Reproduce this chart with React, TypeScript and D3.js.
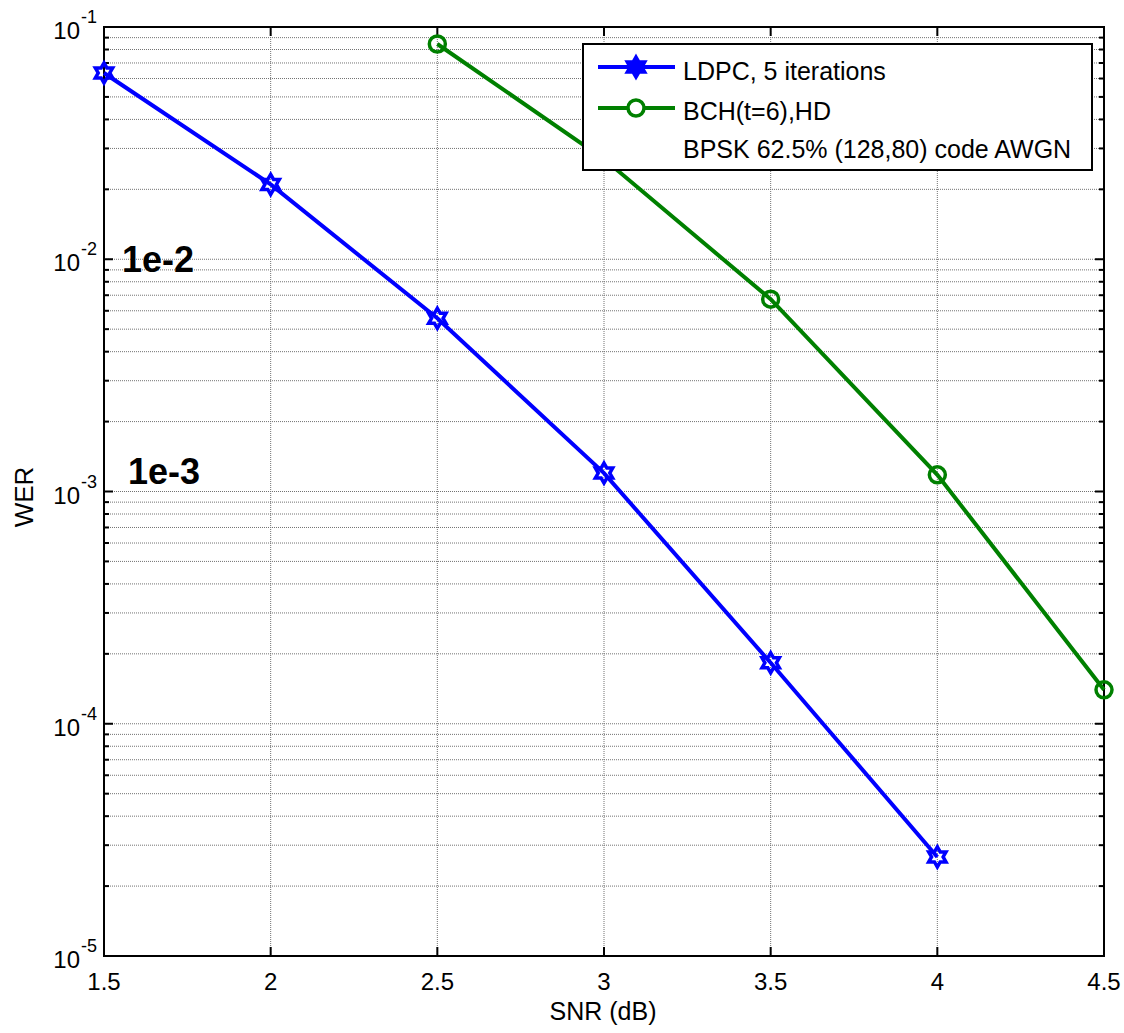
import React, { useRef, useEffect } from "react";
import * as d3 from "d3";

const snrLdpc = [1.5, 2, 2.5, 3, 3.5, 4];
const werLdpc = [0.0634, 0.021, 0.00557, 0.0012, 1.83e-4, 2.67e-5];

const snrBch = [2.5, 3, 3.5, 4, 4.5];
const werBch = [0.0845, 0.027, 0.00673, 0.00118, 1.4e-4];

const xTicks = [1.5, 2, 2.5, 3, 3.5, 4, 4.5];
const yExponents = [-5, -4, -3, -2, -1];

const legendLabels = ["LDPC, 5 iterations", "BCH(t=6),HD", "BPSK 62.5% (128,80) code AWGN"];

const font = "'Liberation Sans', Arial, sans-serif";

function hexagram(R: number) {
  const r = R / Math.sqrt(3);
  const pts: [number, number][] = [];
  for (let i = 0; i < 12; i++) {
    const a = -Math.PI / 2 + (i * Math.PI) / 6;
    const rad = i % 2 === 0 ? R : r;
    pts.push([rad * Math.cos(a), rad * Math.sin(a)]);
  }
  return "M" + pts.map((p) => p.join(",")).join("L") + "Z";
}

const App = () => {
  const svgRef = useRef<SVGSVGElement>(null);

  useEffect(() => {
    const width = 1124;
    const height = 1033;
    const left = 104, right = 1104, top = 27, bottom = 956;

    const svg = d3.select(svgRef.current);
    svg.selectAll("*").remove();
    svg.attr("width", width).attr("height", height).style("display", "block")
      .style("position", "absolute").style("left", 0).style("top", 0);

    svg.append("rect").attr("width", width).attr("height", height).attr("fill", "white");

    const x = d3.scaleLinear().domain([1.5, 4.5]).range([left, right]);
    const y = d3.scaleLog().domain([1e-5, 1e-1]).range([bottom, top]);

    // minor values of each decade
    const minor: number[] = [];
    for (let e = -5; e < -1; e++) for (let k = 2; k <= 9; k++) minor.push(k * Math.pow(10, e));
    const major = yExponents.map((e) => Math.pow(10, e));

    const grid = svg.append("g").attr("stroke", "#444").attr("stroke-width", 1)
      .attr("stroke-dasharray", "1,1").attr("opacity", 0.75);
    [...major, ...minor].forEach((v) => {
      grid.append("line").attr("x1", left).attr("x2", right).attr("y1", y(v)).attr("y2", y(v));
    });
    xTicks.forEach((v) => {
      grid.append("line").attr("x1", x(v)).attr("x2", x(v)).attr("y1", top).attr("y2", bottom);
    });

    // ticks inward on all four sides
    const ticks = svg.append("g").attr("stroke", "black").attr("stroke-width", 2);
    xTicks.forEach((v) => {
      ticks.append("line").attr("x1", x(v)).attr("x2", x(v)).attr("y1", bottom).attr("y2", bottom - 9);
      ticks.append("line").attr("x1", x(v)).attr("x2", x(v)).attr("y1", top).attr("y2", top + 9);
    });
    major.forEach((v) => {
      ticks.append("line").attr("x1", left).attr("x2", left + 9).attr("y1", y(v)).attr("y2", y(v));
      ticks.append("line").attr("x1", right).attr("x2", right - 9).attr("y1", y(v)).attr("y2", y(v));
    });
    minor.forEach((v) => {
      ticks.append("line").attr("x1", left).attr("x2", left + 5).attr("y1", y(v)).attr("y2", y(v));
      ticks.append("line").attr("x1", right).attr("x2", right - 5).attr("y1", y(v)).attr("y2", y(v));
    });

    svg.append("rect").attr("x", left).attr("y", top).attr("width", right - left)
      .attr("height", bottom - top).attr("fill", "none").attr("stroke", "black").attr("stroke-width", 2);

    // tick labels
    svg.append("g").selectAll("text").data(xTicks).join("text")
      .attr("x", (d) => x(d)).attr("y", 990).attr("text-anchor", "middle")
      .attr("font-family", font).attr("font-size", 24).text((d) => String(d));

    const yl = svg.append("g").attr("font-family", font);
    yExponents.forEach((e) => {
      const yy = y(Math.pow(10, e));
      yl.append("text").attr("x", 80).attr("y", yy + 12).attr("text-anchor", "end")
        .attr("font-size", 24).text("10");
      yl.append("text").attr("x", 81).attr("y", yy - 4).attr("font-size", 18).text(String(e));
    });

    svg.append("text").attr("x", 603).attr("y", 1020).attr("text-anchor", "middle")
      .attr("font-family", font).attr("font-size", 25).text("SNR (dB)");
    svg.append("text").attr("transform", "translate(33,497) rotate(-90)").attr("text-anchor", "middle")
      .attr("font-family", font).attr("font-size", 26).text("WER");

    // annotations
    svg.append("text").attr("x", 122).attr("y", 272).attr("font-family", font)
      .attr("font-size", 36).attr("font-weight", "bold").text("1e-2");
    svg.append("text").attr("x", 128).attr("y", 484).attr("font-family", font)
      .attr("font-size", 36).attr("font-weight", "bold").text("1e-3");

    const line = d3.line<[number, number]>().x((d) => x(d[0])).y((d) => y(d[1]));
    const ldpc = snrLdpc.map((s, i) => [s, werLdpc[i]] as [number, number]);
    const bch = snrBch.map((s, i) => [s, werBch[i]] as [number, number]);

    svg.append("path").attr("d", line(bch)).attr("fill", "none").attr("stroke", "#008000").attr("stroke-width", 4);
    svg.append("g").selectAll("circle").data(bch).join("circle")
      .attr("cx", (d) => x(d[0])).attr("cy", (d) => y(d[1])).attr("r", 8)
      .attr("fill", "none").attr("stroke", "#008000").attr("stroke-width", 3.5);

    svg.append("path").attr("d", line(ldpc)).attr("fill", "none").attr("stroke", "#0000ff").attr("stroke-width", 4);
    svg.append("g").selectAll("path").data(ldpc).join("path")
      .attr("transform", (d) => `translate(${x(d[0])},${y(d[1])})`).attr("d", hexagram(10))
      .attr("fill", "none").attr("stroke", "#0000ff").attr("stroke-width", 3.5);

    // legend
    const lg = svg.append("g");
    lg.append("rect").attr("x", 583).attr("y", 44).attr("width", 509).attr("height", 126)
      .attr("fill", "white").attr("stroke", "black").attr("stroke-width", 2);
    const rows = [67, 108, 147];
    lg.append("line").attr("x1", 598).attr("x2", 675).attr("y1", rows[0]).attr("y2", rows[0])
      .attr("stroke", "#0000ff").attr("stroke-width", 4);
    lg.append("path").attr("transform", `translate(636,${rows[0]})`).attr("d", hexagram(11))
      .attr("fill", "#0000ff").attr("stroke", "#0000ff").attr("stroke-width", 2.5);
    lg.append("line").attr("x1", 598).attr("x2", 675).attr("y1", rows[1]).attr("y2", rows[1])
      .attr("stroke", "#008000").attr("stroke-width", 4);
    lg.append("circle").attr("cx", 636).attr("cy", rows[1]).attr("r", 8)
      .attr("fill", "white").attr("stroke", "#008000").attr("stroke-width", 3.5);
    const baselines = [80, 120, 158];
    legendLabels.forEach((t, i) => {
      lg.append("text").attr("x", 683).attr("y", baselines[i]).attr("font-family", font)
        .attr("font-size", 25).text(t);
    });
  }, []);

  return <svg ref={svgRef} />;
};

export default App;
